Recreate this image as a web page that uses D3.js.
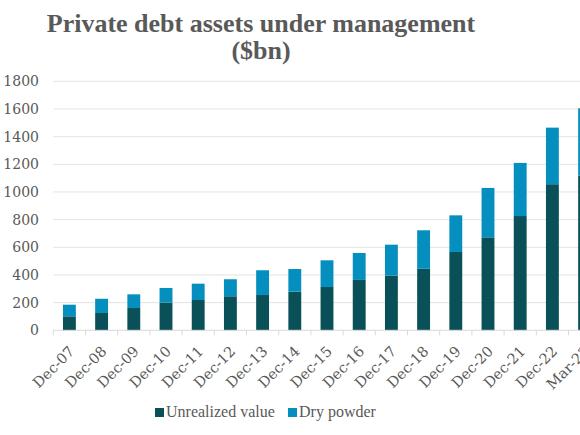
<!DOCTYPE html>
<meta charset="utf-8">
<style>
body { margin: 0; background: white; }
svg { display: block; }
</style>
<body>
<script src="https://d3js.org/d3.v7.min.js"></script>
<script>

// Chart values
const periods = ['Dec-07', 'Dec-08', 'Dec-09', 'Dec-10', 'Dec-11', 'Dec-12', 'Dec-13', 'Dec-14', 'Dec-15',
  'Dec-16', 'Dec-17', 'Dec-18', 'Dec-19', 'Dec-20', 'Dec-21', 'Dec-22', 'Mar-23']
const unrealized = [101, 125, 161, 200, 219, 246, 255, 279, 313, 364, 395, 445, 566, 672, 826, 1056, 1118]
const dryPowder = [84, 103, 99, 106, 118, 123, 179, 164, 193, 195, 224, 278, 265, 357, 384, 409, 487]
const yTicks = [0, 200, 400, 600, 800, 1000, 1200, 1400, 1600, 1800]
const seriesNames = ['Unrealized value', 'Dry powder']
const colors = ['#0a5058', '#058fbf']

const width = 580
const height = 435
const margin = { left: 53.3, top: 81.3, bottom: 330.3 }
const step = 32.2

const svg = d3.select('body')
  .append('svg')
  .attr('width', width)
  .attr('height', height)

// Title
const title = svg.append('text')
  .attr('text-anchor', 'middle')
  .attr('font-family', 'Liberation Serif')
  .attr('font-weight', 'bold')
  .attr('font-size', 26)
  .attr('fill', '#595959')
title.append('tspan').attr('x', 261).attr('y', 32).text('Private debt assets under management')
title.append('tspan').attr('x', 261).attr('y', 59).text('($bn)')

// Scales
const x = d3.scaleBand()
  .domain(periods)
  .range([margin.left, margin.left + step * periods.length])
  .paddingInner(0.6)
  .paddingOuter(0.3)

const y = d3.scaleLinear()
  .domain([0, 1800])
  .range([margin.bottom, margin.top])

// Gridlines
svg.append('g')
  .selectAll('line')
  .data(yTicks.slice(1))
  .join('line')
  .attr('x1', margin.left)
  .attr('x2', margin.left + step * periods.length)
  .attr('y1', d => y(d))
  .attr('y2', d => y(d))
  .attr('stroke', '#e3e3e3')
  .attr('stroke-width', 1)

// Y labels
svg.append('g')
  .selectAll('text')
  .data(yTicks)
  .join('text')
  .attr('x', 39)
  .attr('y', d => y(d) + 5)
  .attr('text-anchor', 'end')
  .attr('font-family', 'DejaVu Serif')
  .attr('font-size', 14)
  .attr('fill', '#595959')
  .text(d => d)

// Stacked bars
const stackData = periods.map((p, i) => ({ period: p, u: unrealized[i], d: dryPowder[i] }))
const stacked = d3.stack().keys(['u', 'd'])(stackData)

svg.append('g')
  .selectAll('g')
  .data(stacked)
  .join('g')
  .attr('fill', (d, i) => colors[i])
  .selectAll('rect')
  .data(d => d)
  .join('rect')
  .attr('x', d => x(d.data.period))
  .attr('width', x.bandwidth())
  .attr('y', d => y(d[1]))
  .attr('height', d => y(d[0]) - y(d[1]))

// X axis line + ticks at band edges
const xAxis = svg.append('g')
xAxis.append('line')
  .attr('x1', margin.left)
  .attr('x2', margin.left + step * periods.length)
  .attr('y1', margin.bottom)
  .attr('y2', margin.bottom)
  .attr('stroke', '#d9d9d9')
xAxis.selectAll('.tick')
  .data(d3.range(periods.length + 1))
  .join('line')
  .attr('x1', i => margin.left + step * i)
  .attr('x2', i => margin.left + step * i)
  .attr('y1', margin.bottom)
  .attr('y2', margin.bottom + 5)
  .attr('stroke', '#d9d9d9')

// X labels, rotated
xAxis.selectAll('text')
  .data(periods)
  .join('text')
  .attr('transform', d => `translate(${x(d) + x.bandwidth() / 2 + 6},${margin.bottom + 22}) rotate(-45)`)
  .attr('text-anchor', 'end')
  .attr('font-family', 'DejaVu Serif')
  .attr('font-size', 14.5)
  .attr('fill', '#595959')
  .text(d => d)

// Legend
const legend = svg.append('g')
const legendX = [155, 288]
seriesNames.forEach((name, i) => {
  legend.append('rect')
    .attr('x', legendX[i])
    .attr('y', 408)
    .attr('width', 9)
    .attr('height', 9)
    .attr('fill', colors[i])
  legend.append('text')
    .attr('x', legendX[i] + 11)
    .attr('y', 417)
    .attr('font-family', 'Liberation Serif')
    .attr('font-size', 16)
    .attr('fill', '#595959')
    .text(name)
})

</script>
</body>
</html>
